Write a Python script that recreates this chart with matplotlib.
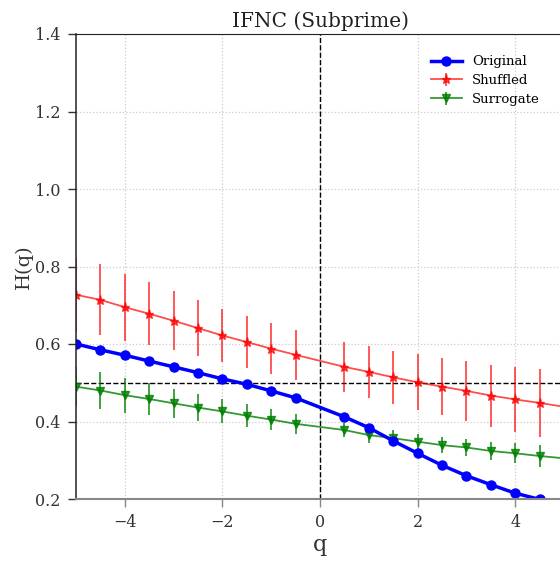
import matplotlib
matplotlib.use("Agg")
import matplotlib.pyplot as plt
import numpy as np

q = [-5, -4.5, -4, -3.5, -3, -2.5, -2, -1.5, -1, -0.5,
     0.5, 1, 1.5, 2, 2.5, 3, 3.5, 4, 4.5, 5]

h_original = [0.600, 0.585, 0.571, 0.556, 0.541, 0.526, 0.510, 0.496, 0.479, 0.461,
              0.412, 0.384, 0.350, 0.318, 0.287, 0.260, 0.237, 0.215, 0.199, 0.182]

h_shuffled = [0.727, 0.714, 0.695, 0.678, 0.660, 0.641, 0.622, 0.605, 0.588, 0.572,
              0.541, 0.528, 0.514, 0.501, 0.490, 0.479, 0.467, 0.457, 0.448, 0.438]
err_shuffled = [0.095, 0.092, 0.086, 0.081, 0.076, 0.073, 0.069, 0.067, 0.065, 0.064,
                0.065, 0.067, 0.069, 0.072, 0.074, 0.077, 0.080, 0.083, 0.087, 0.090]

h_surrogate = [0.490, 0.480, 0.468, 0.458, 0.447, 0.436, 0.426, 0.415, 0.405, 0.394,
               0.378, 0.365, 0.357, 0.348, 0.339, 0.333, 0.324, 0.318, 0.311, 0.305]
err_surrogate = [0.050, 0.048, 0.045, 0.041, 0.038, 0.034, 0.031, 0.029, 0.027, 0.025,
                 0.018, 0.020, 0.020, 0.021, 0.021, 0.022, 0.023, 0.026, 0.028, 0.030]

plt.rcParams['font.family'] = ['DejaVu Serif']

fig = plt.figure(figsize=(5.6, 5.63), dpi=100)
ax = fig.add_axes([76/560, 64/563, 488/560, 465/563])

ax.plot(q, h_original, color='blue', marker='o', markersize=6.5, linewidth=2.5,
        label='Original', zorder=4)
ax.errorbar(q, h_shuffled, yerr=err_shuffled, color='red', alpha=0.7, marker='*',
            markersize=6.5, linewidth=1.3, elinewidth=1.3, capsize=0,
            label='Shuffled', zorder=3)
ax.errorbar(q, h_surrogate, yerr=err_surrogate, color='green', alpha=0.8, marker='v',
            markersize=5.5, linewidth=1.3, elinewidth=1.3, capsize=0,
            label='Surrogate', zorder=3)

ax.axvline(0, color='black', linestyle='--', linewidth=1)
ax.axhline(0.5, color='black', linestyle='--', linewidth=1)

ax.set_xlim(-5, 5)
ax.set_ylim(0.2, 1.4)
ax.set_xticks([-4, -2, 0, 2, 4])
ax.set_yticks([0.2, 0.4, 0.6, 0.8, 1.0, 1.2, 1.4])
ax.grid(True, linestyle=':', color='#cccccc', linewidth=0.9)
ax.set_axisbelow(True)

ax.tick_params(axis='both', direction='out', length=6, width=1, labelsize=11.5,
               colors='#333333', pad=5)
ax.tick_params(axis='x', color='#888888')
ax.tick_params(axis='y', color='#333333')
for s in ax.spines.values():
    s.set_zorder(6)
ax.spines['bottom'].set_color('#888888')
ax.spines['bottom'].set_linewidth(1.5)
ax.spines['left'].set_color('#222222')
ax.spines['left'].set_linewidth(1.1)
ax.spines['top'].set_color('#222222')

ax.set_title('IFNC (Subprime)', fontsize=14.5, color='#222222', pad=5)
ax.set_xlabel('q', fontsize=16, color='#333333', labelpad=2)
ax.set_ylabel('H(q)', fontsize=14, color='#333333', labelpad=2)

leg = ax.legend(loc='upper right', bbox_to_anchor=(0.975, 0.98), frameon=False,
                fontsize=9.5, handlelength=2.3, labelspacing=0.45)

fig.savefig('out.png', dpi=100)
